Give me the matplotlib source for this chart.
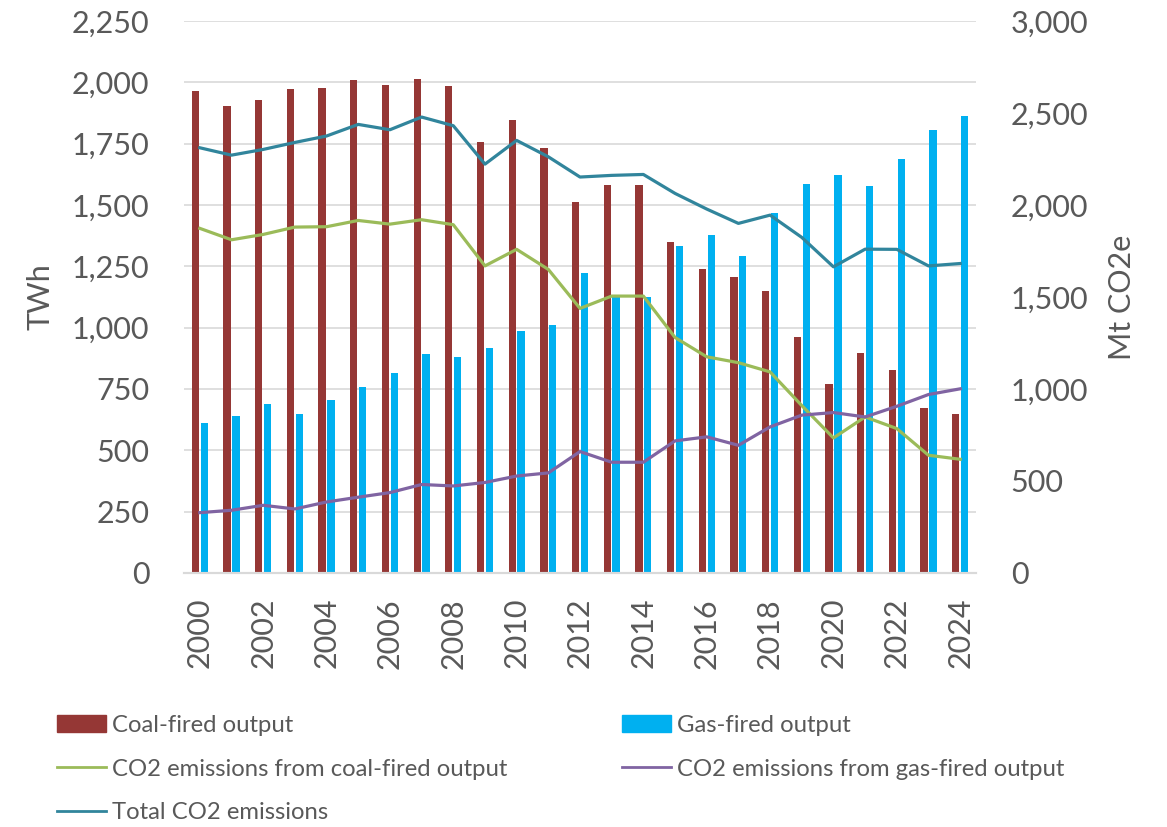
import matplotlib
matplotlib.use("Agg")
import matplotlib.pyplot as plt
import numpy as np
from matplotlib.ticker import FuncFormatter
from matplotlib.patches import Patch
from matplotlib.lines import Line2D

plt.rcParams['font.family'] = ['Lato', 'DejaVu Sans']

years = list(range(2000, 2025))
coal_twh = [1964, 1902, 1930, 1971, 1977, 2009, 1989, 2013, 1985, 1755, 1845, 1731,
            1512, 1580, 1580, 1350, 1238, 1205, 1148, 962, 772, 896, 829, 673, 650]
gas_twh = [612, 638, 688, 647, 707, 758, 814, 893, 881, 919, 986, 1011,
           1223, 1123, 1124, 1332, 1377, 1294, 1467, 1584, 1622, 1577, 1686, 1804, 1864]
co2_coal = [1873, 1811, 1840, 1880, 1882, 1916, 1896, 1920, 1893, 1669, 1759, 1650,
            1438, 1505, 1505, 1280, 1175, 1143, 1093, 910, 734, 848, 785, 640, 618]
co2_gas = [328, 341, 368, 348, 386, 412, 437, 481, 473, 492, 527, 544,
           660, 602, 602, 718, 740, 694, 794, 858, 872, 848, 906, 970, 1001]
co2_total = [2311, 2271, 2302, 2340, 2375, 2438, 2409, 2478, 2431, 2222, 2351, 2262,
             2152, 2161, 2166, 2063, 1978, 1900, 1945, 1824, 1664, 1760, 1759, 1669, 1682]

C_COAL = '#953735'
C_GAS = '#00B0F0'
C_GREEN = '#9BBB59'
C_PURPLE = '#8064A2'
C_TEAL = '#31859C'
TXT = '#595959'
GRID = '#d9d9d9'

fig = plt.figure(figsize=(11.67, 8.27), dpi=100)
ax = fig.add_axes([184/1167, 1-573/827, (976-184)/1167, (573-21)/827])
ax2 = ax.twinx()

x = np.arange(len(years))
w = 0.23
ax.bar(x - 0.14, coal_twh, width=w, color=C_COAL, zorder=2)
ax.bar(x + 0.14, gas_twh, width=w, color=C_GAS, zorder=2)

lw = 2.3
ax2.plot(x, co2_coal, color=C_GREEN, lw=lw, solid_joinstyle='round')
ax2.plot(x, co2_gas, color=C_PURPLE, lw=lw, solid_joinstyle='round')
ax2.plot(x, co2_total, color=C_TEAL, lw=lw, solid_joinstyle='round')

ax.set_xlim(-0.5, len(years) - 0.5)
ax.set_ylim(0, 2250)
ax2.set_ylim(0, 3000)
ax.set_yticks(np.arange(0, 2251, 250))
ax2.set_yticks(np.arange(0, 3001, 500))
fmt = FuncFormatter(lambda v, p: f'{int(v):,}')
ax.yaxis.set_major_formatter(fmt)
ax2.yaxis.set_major_formatter(fmt)

ax.set_xticks(x[::2])
ax.set_xticklabels([str(y) for y in years[::2]], rotation=90)

ax.grid(axis='y', color=GRID, lw=1.2, zorder=0)
ax.set_axisbelow(True)
for a in (ax, ax2):
    for s in ('top', 'left', 'right'):
        a.spines[s].set_visible(False)
    a.spines['bottom'].set_color(GRID)
    a.spines['bottom'].set_linewidth(1.5)
    a.tick_params(length=0, labelsize=22, colors=TXT)
ax.tick_params(axis='y', pad=25)
ax2.tick_params(axis='y', pad=25)
ax.tick_params(axis='x', pad=18)

ax.set_ylabel('TWh', fontsize=22, color=TXT, labelpad=12)
ax2.set_ylabel('Mt CO2e', fontsize=22, color=TXT, labelpad=14)

lfs = 17.2
h_coal = Patch(color=C_COAL)
h_gas = Patch(color=C_GAS)
h_green = Line2D([], [], color=C_GREEN, lw=2.0)
h_purple = Line2D([], [], color=C_PURPLE, lw=2.0)
h_teal = Line2D([], [], color=C_TEAL, lw=2.0)

common = dict(frameon=False, fontsize=lfs, handlelength=2.05, handleheight=0.7,
              handletextpad=0.25, labelspacing=0.95, borderaxespad=0, borderpad=0,
              loc='upper left', labelcolor=TXT)
leg1 = fig.legend([h_coal, h_green, h_teal],
                  ['Coal-fired output', 'CO2 emissions from coal-fired output', 'Total CO2 emissions'],
                  bbox_to_anchor=(57/1167, 1-715/827), **common)
leg2 = fig.legend([h_gas, h_purple],
                  ['Gas-fired output', 'CO2 emissions from gas-fired output'],
                  bbox_to_anchor=(622/1167, 1-715/827), **common)

fig.savefig('out.png', dpi=100)
